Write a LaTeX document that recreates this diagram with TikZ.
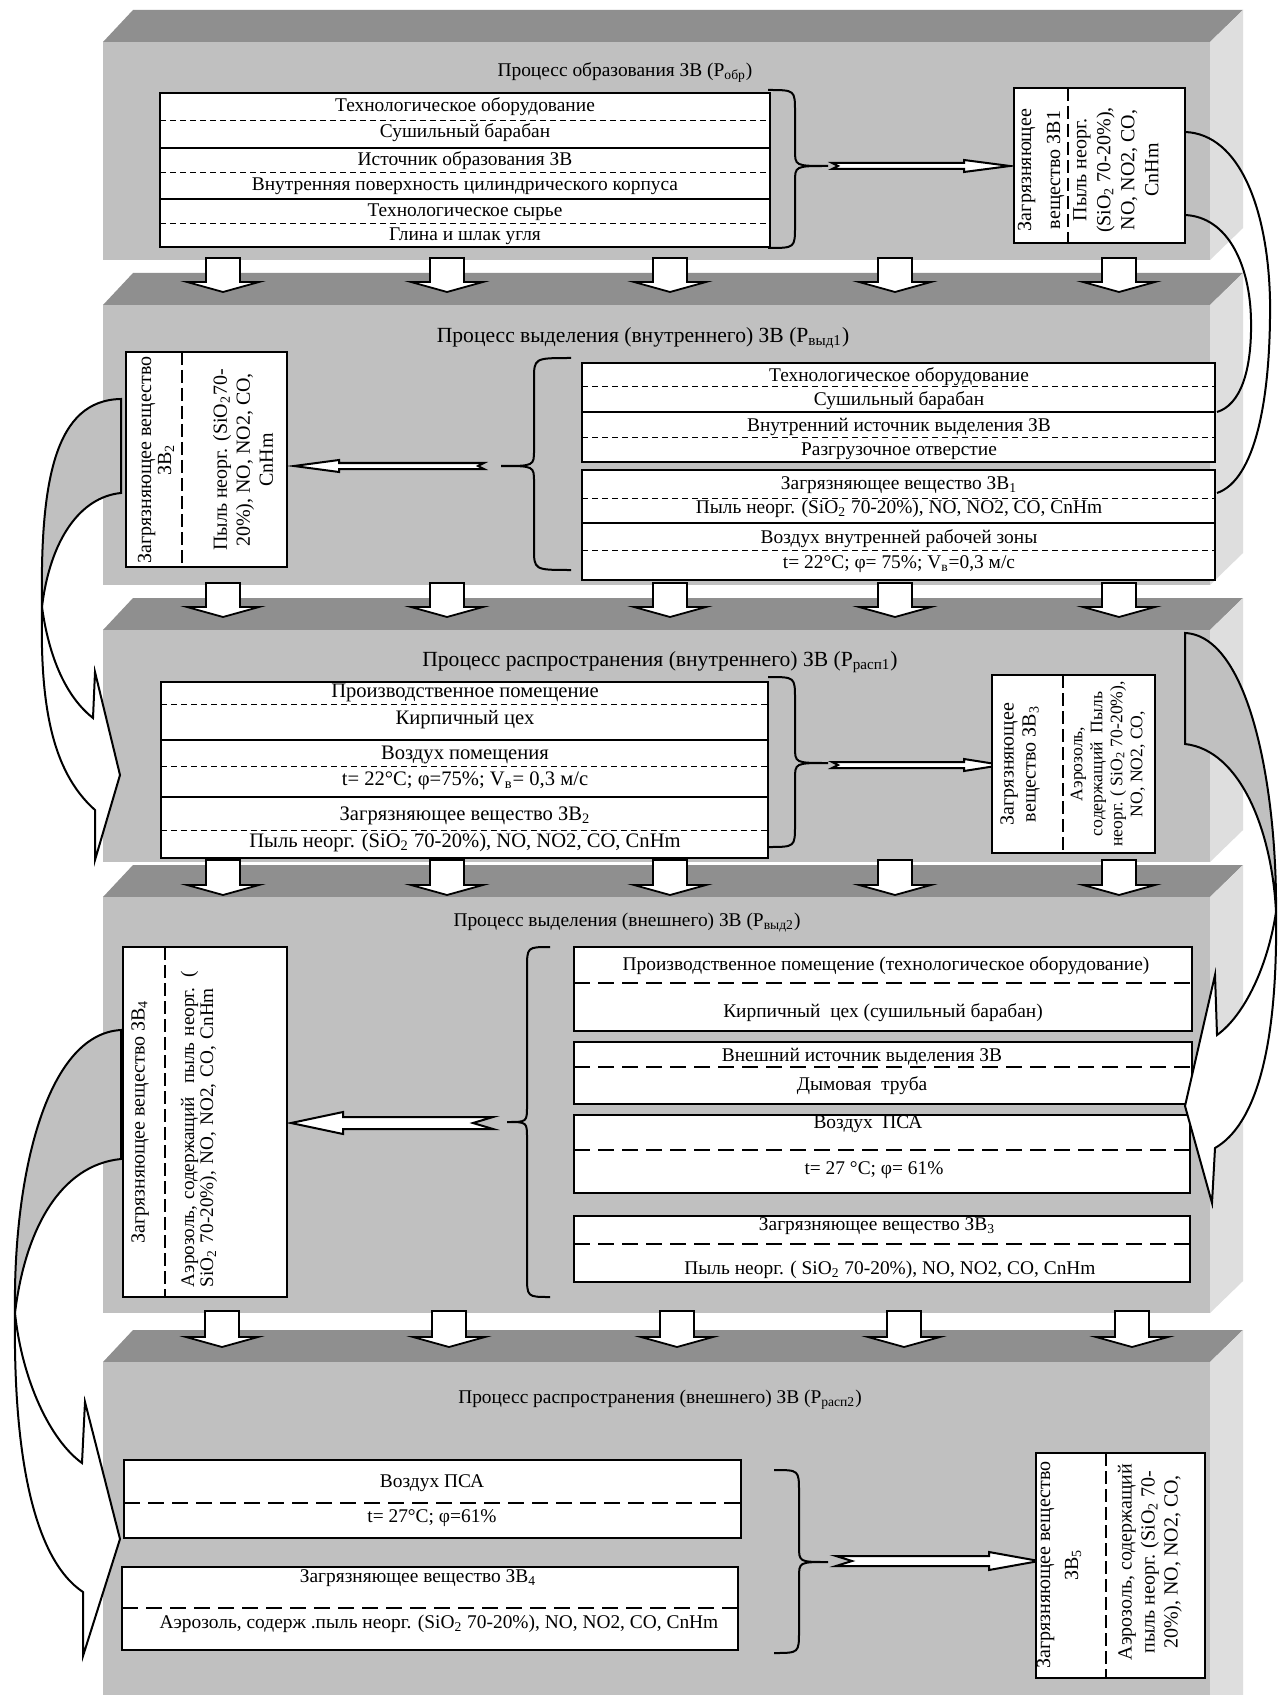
\documentclass[tikz,border=0pt]{standalone}
\usepackage{fontspec}
\setmainfont{Liberation Serif}
\definecolor{frontf}{RGB}{192,192,192}
\definecolor{topf}{RGB}{143,143,143}
\definecolor{sidef}{RGB}{222,222,222}
\newcommand\zslab[2]{%
 \fill[topf] (103,#1) -- (1210,#1) -- (1243,#1-32) -- (133,#1-32) -- cycle;
 \fill[sidef] (1210,#1) -- (1243,#1-32) -- (1243,#2-32) -- (1210,#2) -- cycle;
 \fill[frontf] (103,#1) rectangle (1210,#2);}
\newcommand\zdown[4]{%
 \draw[fill=white, line width=0.9pt] (#1-17,#2) -- (#1+17,#2) -- (#1+17,#3) -- (#1+36,#3) -- (#1,#4) -- (#1-36,#3) -- (#1-17,#3) -- cycle;}
\newcommand\zbrace[6]{%
 \draw[line width=1pt] (#1,#4) .. controls (#2,#4) .. (#2,#4+22) -- (#2,#6-16) .. controls (#2,#6) .. (#3,#6) .. controls (#2,#6) .. (#2,#6+16) -- (#2,#5-22) .. controls (#2,#5) .. (#1,#5);}
\newcommand\zharrow[7]{%
 \draw[fill=white, line width=1pt] (#1,#4-#5) -- (#2,#4-#5) -- (#2,#4-#6) -- (#3,#4) -- (#2,#4+#6) -- (#2,#4+#5) -- (#1,#4+#5) -- (#7,#4) -- cycle;}
\tikzset{
 txt/.style={font=\fontsize{9.7}{11}\selectfont, inner sep=0pt},
 txtb/.style={font=\fontsize{10.3}{12}\selectfont, inner sep=0pt},
 ttlA/.style={font=\fontsize{9.7}{11}\selectfont, inner sep=0pt},
 ttlB/.style={font=\fontsize{10.8}{12}\selectfont, inner sep=0pt},
 rot/.style={rotate=90, align=center, inner sep=0pt},
 tbl/.style={line width=0.9pt},
 tdash/.style={line width=0.5pt, dash pattern=on 3pt off 2pt},
 kdash/.style={line width=1.4pt, dash pattern=on 8pt off 4pt},
 vdash/.style={line width=1pt, dash pattern=on 6.5pt off 2.5pt},
 band/.style={line width=1pt},
}
\begin{document}
\begin{tikzpicture}[x=0.5pt,y=-0.5pt, line join=miter]
\useasboundingbox (0,0) rectangle (1283,1695);
\fill[white] (0,0) rectangle (1283,1695);
% slabs
\zslab{42}{260}
\zslab{305}{585}
\zslab{630}{862}
\zslab{897}{1313}
\zslab{1362}{1740}

% ---------- slab 1 ----------
\node[ttlA] (ttl1) at (625,73) {Процесс образования ЗВ (P\textsubscript{обр})};
\draw[tbl, fill=white] (160,93) rectangle (770,247);
\draw[tbl] (160,148) -- (770,148) (160,199) -- (770,199);
\draw[tdash] (160,121) -- (770,121) (160,173) -- (770,173) (160,224) -- (770,224);
\node[txt] (a1) at (465,107) {Технологическое оборудование};
\node[txt] (a2) at (465,133) {Сушильный барабан};
\node[txt] (a3) at (465,161) {Источник образования ЗВ};
\node[txt] (a4) at (465,186) {Внутренняя поверхность цилиндрического корпуса};
\node[txt] (a5) at (465,212) {Технологическое сырье};
\node[txt] (a6) at (465,236) {Глина и шлак угля};
\zbrace{768}{795}{828}{90}{248}{166}
\zharrow{832}{964}{1010}{166}{3}{6}{838}
\draw[tbl, fill=white] (1014,88) rectangle (1185,243);
\draw[vdash] (1068,88) -- (1068,243);
\node[rot, font=\fontsize{10}{14.5}\selectfont] (z1a) at (1041,170) {Загрязняющее\\вещество ЗВ1};
\node[rot, font=\fontsize{10}{12}\selectfont] (z1b) at (1116,170) {Пыль неорг.\\(SiO\textsubscript{2} 70-20\%),\\NO, NO2, CO,\\CnHm};

% ---------- slab 2 ----------
\node[ttlB] (ttl2) at (643,338) {Процесс выделения (внутреннего) ЗВ (P\textsubscript{выд1})};
\draw[tbl, fill=white] (126,352) rectangle (287,567);
\draw[vdash] (182,352) -- (182,567);
\node[rot, font=\fontsize{10}{10}\selectfont] (z2a) at (156,460) {Загрязняющее вещество\\ЗВ\textsubscript{2}};
\node[rot, font=\fontsize{10}{11.5}\selectfont] (z2b) at (243,460) {Пыль неорг. (SiO\textsubscript{2}70-\\20\%), NO, NO2, CO,\\CnHm};
\draw[tbl, fill=white] (582,363) rectangle (1215,462);
\draw[tbl] (582,412) -- (1215,412);
\draw[tdash] (582,387) -- (1215,387) (582,438) -- (1215,438);
\node[txt] (b1) at (899,377) {Технологическое оборудование};
\node[txt] (b2) at (899,401) {Сушильный барабан};
\node[txt] (b3) at (899,427) {Внутренний источник выделения ЗВ};
\node[txt] (b4) at (899,451) {Разгрузочное отверстие};
\draw[tbl, fill=white] (582,470) rectangle (1215,580);
\draw[tbl] (582,523) -- (1215,523);
\draw[tdash] (582,498) -- (1215,498) (582,550) -- (1215,550);
\node[txt] (b5) at (899,485) {Загрязняющее вещество ЗВ\textsubscript{1}};
\node[txt] (b6) at (899,509) {Пыль неорг. (SiO\textsubscript{2} 70-20\%), NO, NO2, CO, CnHm};
\node[txt] (b7) at (899,539) {Воздух внутренней рабочей зоны};
\node[txt] (b8) at (899,564) {t= 22°C; φ= 75\%; V\textsubscript{в}=0,3 м/с};
\zbrace{571}{534}{501}{358}{570}{466}
\zharrow{484}{339}{294}{466}{3}{6}{478}

% ---------- slab 3 ----------
\node[ttlB] (ttl3) at (660,662) {Процесс распространения (внутреннего) ЗВ (P\textsubscript{расп1})};
\draw[tbl, fill=white] (161,682) rectangle (768,858);
\draw[tbl] (161,740) -- (768,740) (161,797) -- (768,797);
\draw[tdash] (161,704) -- (768,704) (161,766) -- (768,766) (161,830) -- (768,830);
\node[txtb] (c1) at (465,693) {Производственное помещение};
\node[txtb] (c2) at (465,720) {Кирпичный цех};
\node[txtb] (c3) at (465,755) {Воздух помещения};
\node[txtb] (c4) at (465,781) {t= 22°C; φ=75\%; V\textsubscript{в}= 0,3 м/с};
\node[txtb] (c5) at (465,816) {Загрязняющее вещество ЗВ\textsubscript{2}};
\node[txtb] (c6) at (465,843) {Пыль неорг. (SiO\textsubscript{2} 70-20\%), NO, NO2, CO, CnHm};
\zbrace{768}{795}{828}{677}{847}{763}
\zharrow{832}{964}{1002}{765}{3}{6}{838}
\draw[tbl, fill=white] (992,675) rectangle (1155,853);
\draw[vdash] (1063,675) -- (1063,853);
\node[rot, font=\fontsize{10}{11}\selectfont] (z3a) at (1020,764) {Загрязняющее\\вещество ЗВ\textsubscript{3}};
\node[rot, font=\fontsize{8.8}{10}\selectfont] (z3b) at (1108,764) {Аэрозоль,\\содержащий~~Пыль\\неорг. ( SiO\textsubscript{2} 70-20\%),\\NO, NO2, CO,};

% ---------- slab 4 ----------
\node[ttlA] (ttl4) at (627,923) {Процесс выделения (внешнего) ЗВ (P\textsubscript{выд2})};
\draw[tbl, fill=white] (123,947) rectangle (287,1297);
\draw[vdash] (165,947) -- (165,1297);
\node[rot, font=\fontsize{10}{11}\selectfont] (z4a) at (140,1122) {Загрязняющее вещество ЗВ\textsubscript{4}};
\node[rot, align=left, text width=165pt, font=\fontsize{9.6}{9.6}\selectfont] (z4b) at (199,1122) {Аэрозоль, содержащий~~пыль неорг. (\\SiO\textsubscript{2} 70-20\%), NO, NO2, CO, CnHm};
\draw[tbl, fill=white] (574,947) rectangle (1192,1031);
\draw[kdash] (574,983) -- (1192,983);
\node[txt] (d1) at (886,966) {Производственное помещение (технологическое оборудование)};
\node[txt] (d2) at (883,1013) {Кирпичный~~цех (сушильный барабан)};
\draw[tbl, fill=white] (574,1042) rectangle (1192,1104);
\node[txt] (d3) at (862,1057) {Внешний источник выделения ЗВ};
\draw[kdash] (574,1067) -- (1192,1067);
\node[txt] (d4) at (862,1086) {Дымовая~~труба};
\draw[tbl, fill=white] (574,1115) rectangle (1190,1193);
\draw[kdash] (574,1150) -- (1190,1150);
\node[txt] (d5) at (868,1124) {Воздух~~ПСА};
\node[txt] (d6) at (874,1170) {t= 27 °С; φ= 61\%};
\draw[tbl, fill=white] (574,1216) rectangle (1190,1282);
\draw[kdash] (574,1244) -- (1190,1244);
\node[txt] (d7) at (877,1226) {Загрязняющее вещество ЗВ\textsubscript{3}};
\node[txt] (d8) at (890,1270) {Пыль неорг. ( SiO\textsubscript{2} 70-20\%), NO, NO2, CO, CnHm};
\zbrace{550}{527}{507}{947}{1297}{1122}
\zharrow{493}{343}{291}{1123}{6}{11}{473}

% ---------- slab 5 ----------
\node[ttlA] (ttl5) at (660,1400) {Процесс распространения (внешнего) ЗВ (P\textsubscript{расп2})};
\draw[tbl, fill=white] (124,1460) rectangle (741,1538);
\draw[kdash] (124,1503) -- (741,1503);
\node[txt] (e1) at (432,1483) {Воздух ПСА};
\node[txt] (e2) at (432,1518) {t= 27°С; φ=61\%};
\draw[tbl, fill=white] (122,1567) rectangle (738,1650);
\draw[kdash] (122,1608) -- (738,1608);
\node[txt] (e3) at (418,1578) {Загрязняющее вещество ЗВ\textsubscript{4}};
\node[txt] (e4) at (439,1624) {Аэрозоль, содерж .пыль неорг. (SiO\textsubscript{2} 70-20\%), NO, NO2, CO, CnHm};
\zbrace{774}{799}{828}{1470}{1653}{1562}
\zharrow{836}{989}{1039}{1561}{5}{9}{852}
\draw[tbl, fill=white] (1036,1453) rectangle (1205,1678);
\draw[vdash] (1106,1453) -- (1106,1678);
\node[rot, font=\fontsize{10}{14}\selectfont] (z5a) at (1059,1565) {Загрязняющее вещество\\ЗВ\textsubscript{5}};
\node[rot, font=\fontsize{10}{11.5}\selectfont] (z5b) at (1150,1562) {Аэрозоль, содержащий\\пыль неорг. (SiO\textsubscript{2} 70-\\20\%), NO, NO2, CO,};

% ---------- down arrows ----------
\foreach \xx in {223,447,670,895,1119} {\zdown{\xx}{258}{282}{292}}
\foreach \xx in {223,447,670,895,1119} {\zdown{\xx}{583}{607}{617}}
\foreach \xx in {223,447,670,895,1119} {\zdown{\xx}{860}{885}{895}}
\foreach \xx in {222,449,677,904,1132} {\zdown{\xx}{1311}{1337}{1347}}

% ---------- curved connectors ----------
% slab1 -> slab2 (right band)
\draw[band] (1185,132) .. controls (1240,134) and (1268,210) .. (1270,300) .. controls (1271,400) and (1255,480) .. (1217,493);
\draw[band] (1185,215) .. controls (1228,217) and (1250,265) .. (1251,320) .. controls (1252,372) and (1240,405) .. (1217,412);
% slab2 -> slab3 (left)
\filldraw[fill=frontf, band] (121,399) .. controls (55,400) and (40,480) .. (42,607) .. controls (50,540) and (80,497) .. (121,493) -- cycle;
\filldraw[fill=white, band] (42,607) .. controls (40,700) and (50,770) .. (95,810) -- (95,860) -- (120,775) -- (95,672) -- (93,718) .. controls (70,700) and (50,665) .. (42,607) -- cycle;
% slab3 -> slab4 (right)
\filldraw[fill=frontf, band] (1185,633) .. controls (1250,636) and (1277,790) .. (1276,912) .. controls (1272,830) and (1240,750) .. (1185,744) -- cycle;
\filldraw[fill=white, band] (1276,912) .. controls (1278,1050) and (1255,1125) .. (1215,1148) -- (1212,1203) -- (1185,1106) -- (1215,975) -- (1217,1035) .. controls (1245,1015) and (1268,965) .. (1276,912) -- cycle;
% slab4 -> slab5 (left)
\filldraw[fill=frontf, band] (121,1030) .. controls (45,1034) and (13,1180) .. (15,1313) .. controls (25,1230) and (60,1165) .. (121,1159) -- cycle;
\filldraw[fill=white, band] (15,1313) .. controls (13,1460) and (35,1560) .. (83,1592) -- (83,1656) -- (120,1539) -- (85,1402) -- (82,1463) .. controls (50,1440) and (22,1380) .. (15,1313) -- cycle;
\end{tikzpicture}
\end{document}
